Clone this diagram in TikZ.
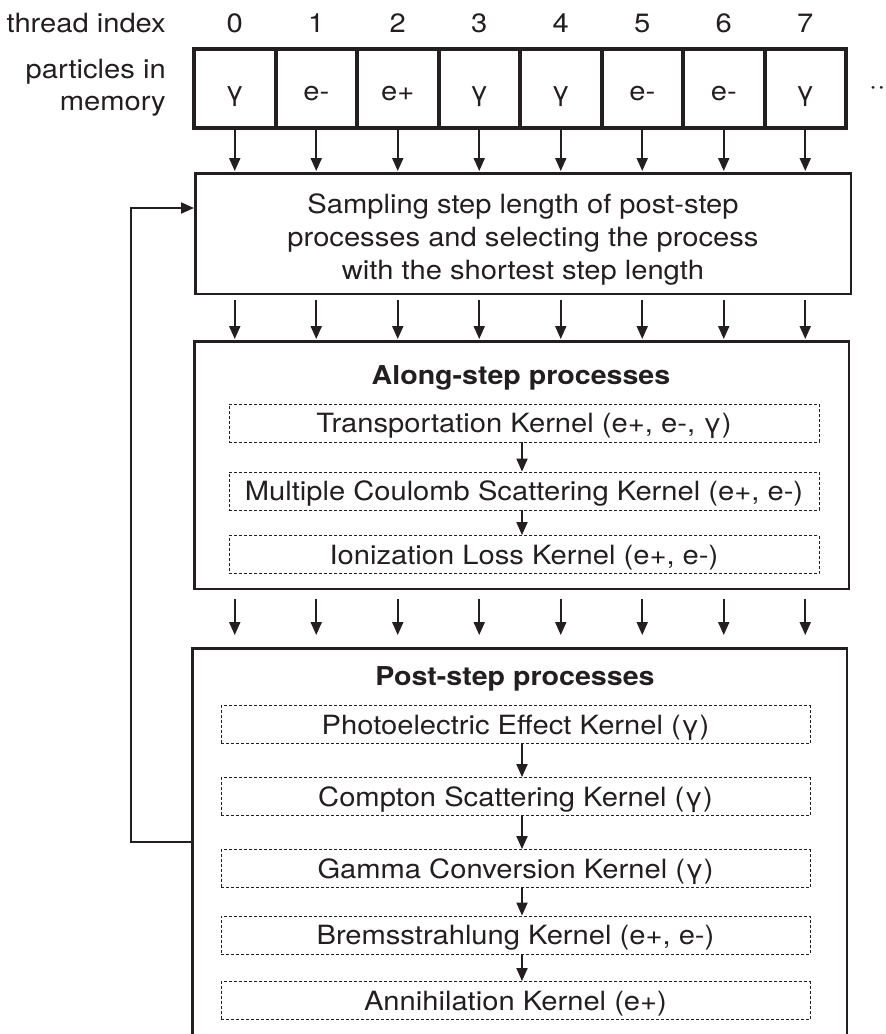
\documentclass[tikz,border=0pt]{standalone}
\usepackage{fontspec}
\setmainfont[FakeStretch=1.1]{TeX Gyre Heros}
\usetikzlibrary{arrows.meta,calc}
\definecolor{ink}{RGB}{35,31,32}
\begin{document}
\begin{tikzpicture}[x=1pt,y=-1pt,
  every node/.style={font=\fontsize{26.5}{33}\selectfont, text=ink},
  cell/.style={draw=ink, line width=4pt, minimum width=81.5pt, minimum height=79pt,
    inner sep=0pt, text height=23pt, text depth=0pt},
  bigbox/.style={draw=ink, line width=2.5pt, inner sep=0pt},
  kbox/.style={draw=ink, line width=0.9pt, dash pattern=on 3pt off 2pt,
    minimum height=38pt, inner sep=0pt, text depth=0pt},
  title/.style={anchor=base, font=\fontsize{26}{33}\selectfont\bfseries},
  arr/.style={draw=ink, line width=2pt, -{Triangle[length=13pt,width=11pt]}},
  lab/.style={anchor=base east, inner sep=0pt},
]
\useasboundingbox (0,0) rectangle (886,1034);

% left labels
\node[lab] (lthread) at (166,32) {thread index};
\node[lab] (lpart)   at (166,78) {particles in};
\node[lab] (lmem)    at (166,110) {memory};

% particle cells and thread indices
\foreach \i/\p in {0/γ,1/e-,2/e+,3/γ,4/γ,5/e-,6/e-,7/γ}{
  \node[cell] (p\i) at ({234.75+81.5*\i},88.5) {\p};
  \node[anchor=base, inner sep=0pt] (t\i) at ({234.75+81.5*\i},32) {\i};
}
\node[anchor=base west, inner sep=0pt] (more) at (869,94) {···};

% sampling box
\node[bigbox, minimum width=655.5pt, minimum height=120.5pt] (samp) at (523,233.5) {};
\node[align=center, inner sep=0pt] (samptext) at (523,239.5)
  {Sampling step length of post-step\\processes and selecting the process\\with the shortest step length};

% along-step box
\node[bigbox, minimum width=654.5pt, minimum height=247.5pt] (along) at (521.5,465) {};
\node[title] (alongtitle) at (521,384) {Along-step processes};
\node[kbox, minimum width=590pt] (a1) at (524,423)   {Transportation Kernel (e+, e-, γ)};
\node[kbox, minimum width=590pt] (a2) at (524,491)   {Multiple Coulomb Scattering Kernel (e+, e-)};
\node[kbox, minimum width=590pt] (a3) at (524,554.5) {Ionization Loss Kernel (e+, e-)};

% post-step box
\node[bigbox, minimum width=654.5pt, minimum height=412pt] (post) at (519.5,854.25) {};
\node[title] (posttitle) at (515,685) {Post-step processes};
\node[kbox, minimum width=589pt] (b1) at (515.5,724.5) {Photoelectric Effect Kernel (γ)};
\node[kbox, minimum width=589pt] (b2) at (515.5,796.5) {Compton Scattering Kernel (γ)};
\node[kbox, minimum width=589pt] (b3) at (515.5,868.5) {Gamma Conversion Kernel (γ)};
\node[kbox, minimum width=589pt] (b4) at (515.5,935)   {Bremsstrahlung Kernel (e+, e-)};
\node[kbox, minimum width=589pt] (b5) at (515.5,1000.5) {Annihilation Kernel (e+)};

% thread arrows
\foreach \i in {0,...,7}{
  \draw[arr] (p\i.south) -- ([yshift=1pt]samp.north -| p\i);
  \draw[arr] ([yshift=-5pt]samp.south -| p\i) -- ([yshift=1pt]along.north -| p\i);
  \draw[arr] ([yshift=-9pt]along.south -| p\i) -- ([yshift=12pt]post.north -| p\i);
}

% kernel chain arrows
\coordinate (spine) at (522,0);
\draw[arr] (a1.south -| spine) -- (a2.north -| spine);
\draw[arr] (a2.south -| spine) -- (a3.north -| spine);
\draw[arr] (b1.south -| spine) -- (b2.north -| spine);
\draw[arr] (b2.south -| spine) -- (b3.north -| spine);
\draw[arr] (b3.south -| spine) -- (b4.north -| spine);
\draw[arr] (b4.south -| spine) -- (b5.north -| spine);

% feedback loop
\coordinate (fbl) at (131,842);
\coordinate (fbu) at (131,208);
\draw[arr] (fbl -| post.west) -- (fbl) -- (fbu) -- (fbu -| samp.west);
\end{tikzpicture}
\end{document}
